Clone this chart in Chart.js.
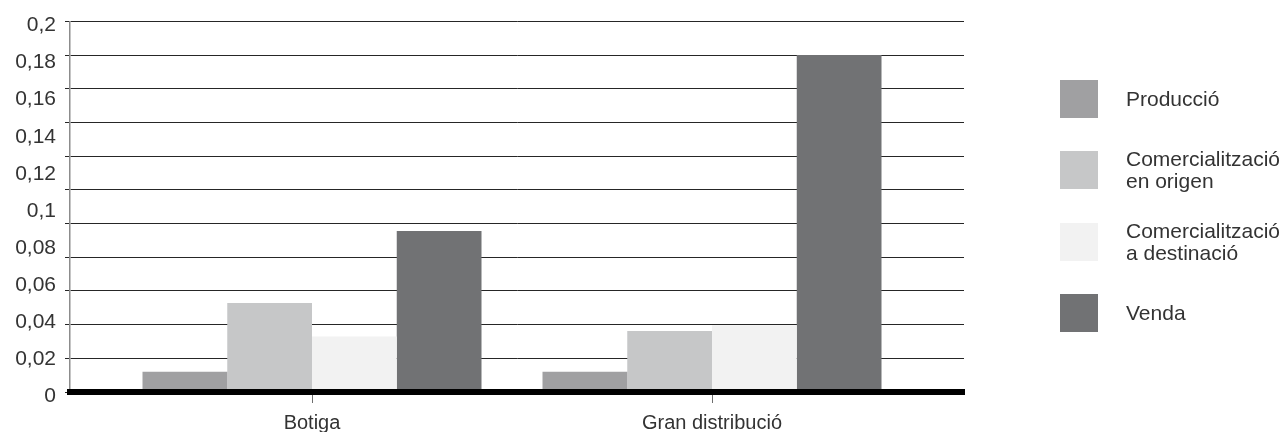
<!DOCTYPE html>
<html lang="ca">
<head>
<meta charset="utf-8">
<title>Botiga i gran distribució</title>
<script src="https://cdn.jsdelivr.net/npm/chart.js@4/dist/chart.umd.min.js"></script>
<style>
  html, body { margin: 0; padding: 0; background: #fff; }
  #wrap { position: relative; width: 1287px; height: 432px; overflow: hidden; }
  #chart { position: absolute; left: 0; top: 0; }
  #legend { position: absolute; left: 1060px; top: 80px; font-family: "Liberation Sans", Arial, sans-serif; font-size: 21px; line-height: 22px; color: #333; }
  .item { display: flex; align-items: center; height: 38px; margin-bottom: 33.4px; white-space: nowrap; }
  .box { width: 38px; height: 38px; flex: none; }
  .txt { margin-left: 28px; }
</style>
</head>
<body>
<div id="wrap">
  <canvas id="chart" width="1287" height="432"></canvas>
  <div id="legend"></div>
</div>
<script>
// Categories and series (share of final price)
const categories = ['Botiga', 'Gran distribució'];
const produccio = [0.011, 0.011];
const comercOrigen = [0.048, 0.033];
const comercDestinacio = [0.030, 0.036];
const venda = [0.087, 0.182];

const seriesNames = [
  ['Producció'],
  ['Comercialització', 'en origen'],
  ['Comercialització', 'a destinació'],
  ['Venda']
];
const seriesColors = ['#a0a0a2', '#c6c7c8', '#f2f2f2', '#717274'];

const yTickLabels = ['0', '0,02', '0,04', '0,06', '0,08', '0,1', '0,12', '0,14', '0,16', '0,18', '0,2'];

const family = '"Liberation Sans", Arial, sans-serif';
const textColor = '#333';

const seriesValues = [produccio, comercOrigen, comercDestinacio, venda];
const datasets = seriesValues.map((vals, s) => ({
  label: seriesNames[s].join(' '),
  data: vals.map((v, i) => ({ x: i + 1, y: v })),
  backgroundColor: seriesColors[s],
  borderWidth: 0,
  categoryPercentage: 0.8475,
  barPercentage: 1,
  yAxisID: 'y'
}));

const chart = new Chart(document.getElementById('chart'), {
  type: 'bar',
  data: { datasets },
  options: {
    responsive: false,
    animation: false,
    layout: { padding: { top: 18, right: 323, left: 0, bottom: 0 } },
    plugins: { legend: { display: false }, tooltip: { enabled: false } },
    scales: {
      x: {
        type: 'linear',
        offset: false,
        min: 0.395,
        max: 2.63,
        afterBuildTicks: (s) => { s.ticks = categories.map((_, i) => ({ value: i + 1 })); },
        afterFit: (s) => { s.height = 40; },
        grid: { offset: false, drawOnChartArea: false, drawTicks: true, tickLength: 11, color: '#6e6e6e', lineWidth: 1 },
        border: { display: true, color: '#000', width: 6, z: 1 },
        ticks: {
          callback: (v) => categories[v - 1] ?? '',
          font: { family, size: 20 }, color: textColor, padding: 8, autoSkip: false, maxRotation: 0
        }
      },
      y: {
        min: 0,
        max: 0.2,
        position: 'left',
        weight: 1,
        afterFit: (s) => { s.width = 65; },
        grid: { display: false, drawTicks: false },
        border: { display: false },
        ticks: {
          stepSize: 0.02,
          callback: (v, i) => yTickLabels[i],
          labelOffset: 4,
          padding: 9,
          font: { family, size: 21 }, color: textColor
        }
      },
      yg: {
        min: 0,
        max: 11,
        position: 'left',
        weight: 0,
        afterFit: (s) => { s.width = 5; },
        grid: { color: '#262626', lineWidth: 1, drawTicks: true, tickLength: 5 },
        border: { display: true, color: '#8c8c8c', width: 1.5 },
        ticks: { display: false, stepSize: 1 }
      }
    }
  }
});

// HTML legend built from the chart's datasets
const legendEl = document.getElementById('legend');
chart.data.datasets.forEach((ds, s) => {
  const item = document.createElement('div');
  item.className = 'item';
  const box = document.createElement('div');
  box.className = 'box';
  box.style.background = ds.backgroundColor;
  const txt = document.createElement('div');
  txt.className = 'txt';
  txt.innerHTML = seriesNames[s].map(t => t.replace(/&/g, '&amp;')).join('<br>');
  item.appendChild(box);
  item.appendChild(txt);
  legendEl.appendChild(item);
});
</script>
</body>
</html>
